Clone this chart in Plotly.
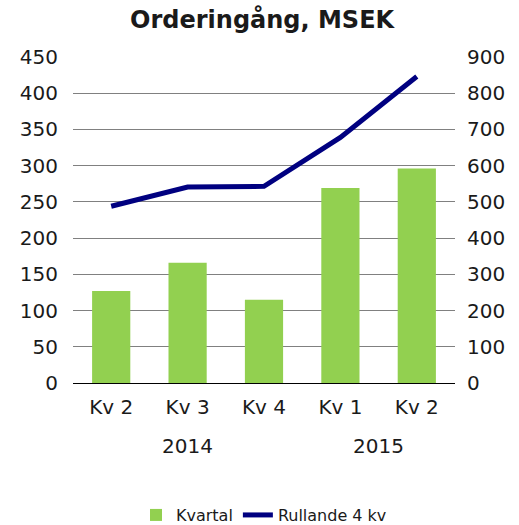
import plotly.graph_objects as go

years = ["2014", "2014", "2014", "2015", "2015"]
quarters = ["Kv 2", "Kv 3", "Kv 4", "Kv 1", "Kv 2"]
kvartal = [127, 166, 115, 269, 296]
rullande = [488, 541, 543, 678, 846]

left_ticks = list(range(0, 451, 50))
right_ticks = list(range(0, 901, 100))

FONT = "DejaVu Sans"
TXT = "#1a1a1a"

xpos = list(range(len(quarters)))

fig = go.Figure()
fig.add_trace(go.Bar(
    x=xpos, y=kvartal, name="Kvartal",
    marker=dict(color="#92D050", line=dict(width=0)),
    yaxis="y",
))
fig.add_trace(go.Scatter(
    x=xpos, y=rullande, name="Rullande 4 kv",
    mode="lines", line=dict(color="#000080", width=5),
    yaxis="y2",
))

# year group labels centred under their quarters
for yr in dict.fromkeys(years):
    idx = [i for i, y in enumerate(years) if y == yr]
    fig.add_annotation(
        x=sum(idx) / len(idx), xref="x", y=-0.193, yref="paper",
        text=yr, showarrow=False, yanchor="middle",
        font=dict(size=20, family=FONT, color=TXT),
    )

fig.update_layout(
    width=519, height=525,
    margin=dict(l=73, r=64, t=57, b=142, autoexpand=False),
    paper_bgcolor="white", plot_bgcolor="white",
    font=dict(family=FONT, color=TXT, size=20),
    title=dict(text="<b>Orderingång, MSEK</b>", x=0.505, xanchor="center",
               y=0.962, yanchor="middle", font=dict(size=24, family=FONT, color=TXT)),
    bargap=0.5,
    showlegend=True,
    legend=dict(orientation="h", x=0.5, xanchor="center", y=-0.405, yanchor="middle",
                font=dict(size=16, family=FONT, color=TXT), traceorder="normal"),
    xaxis=dict(
        tickvals=xpos, ticktext=quarters, range=[-0.5, len(quarters) - 0.5],
        showline=True, linecolor="#000", linewidth=1, ticks="",
        tickfont=dict(size=20), showgrid=False, zeroline=False,
        ticklabelstandoff=6,
    ),
    yaxis=dict(
        range=[0, 450], tickvals=left_ticks, showgrid=True, gridcolor="#808080",
        gridwidth=1, zeroline=False, showline=False, ticks="",
        ticklabelstandoff=14, tickfont=dict(size=20),
    ),
    yaxis2=dict(
        range=[0, 900], tickvals=right_ticks, overlaying="y", side="right",
        showgrid=False, zeroline=False, showline=False, ticks="",
        ticklabelstandoff=11, tickfont=dict(size=20),
    ),
)

fig.write_html(
    "out.html",
    config={"displayModeBar": False},
    post_script="document.body.style.margin='0px';document.body.style.overflow='hidden';",
)
